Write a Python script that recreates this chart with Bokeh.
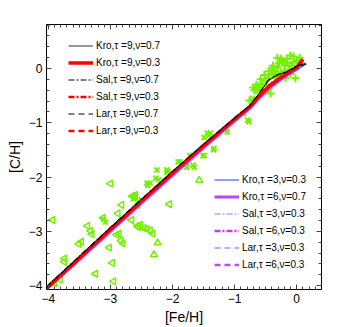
import math
from bokeh.plotting import figure
from bokeh.models import Range1d, LinearAxis, Legend, LegendItem, SingleIntervalTicker
from bokeh.embed import file_html
from bokeh.resources import INLINE

# ---------------- data ----------------
tri_left_x = [-3.93, -3.00, -3.37, -3.32, -3.30, -3.51, -3.47, -3.74, -3.74, -3.24, -2.97, -3.02,
              -2.95, -2.90, -2.86, -2.88, -2.82, -2.65, -2.62, -2.60, -2.66, -2.57, -2.83, -2.80,
              -2.46, -2.41, -2.36, -2.32, -2.05, -3.12, -3.81, -3.90, -2.56, -2.52, -2.55]
tri_left_y = [-2.79, -2.12, -2.90, -2.99, -3.05, -3.23, -3.19, -3.50, -3.56, -3.78, -3.58, -3.30,
              -3.92, -3.06, -3.04, -2.67, -2.51, -2.35, -2.36, -2.33, -2.79, -2.90, -3.17, -3.22,
              -2.94, -2.96, -2.98, -3.04, -2.50, -2.75, -3.89, -3.95, -2.51, -2.88, -2.92]

tri_up_x = [-2.30, -2.24, -1.57]
tri_up_y = [-3.43, -3.21, -2.06]

xmark_x = [-3.11, -3.08, -2.41, -2.40, -2.27, -2.25, -2.22, -2.09, -2.07, -2.36, -2.61, -2.63,
           -1.91, -1.77, -1.67, -1.72, -1.51, -1.39, -1.41, -1.12, -1.44, -1.34, -1.65, -1.77,
           -1.88, -2.09, -0.79, -0.77, -0.86, -0.71, -1.33, -1.49, -1.49, -2.55, -2.50]
xmark_y = [-2.78, -2.83, -2.11, -2.15, -2.02, -1.87, -2.05, -1.87, -1.90, -2.11, -2.37, -2.40,
           -1.72, -1.82, -1.78, -1.60, -1.61, -1.19, -1.23, -1.17, -1.19, -1.50, -1.82, -1.74,
           -1.72, -1.91, -0.95, -0.98, -0.83, -0.55, -1.47, -1.27, -1.60, -2.45, -2.42]

cross_x = [-0.31, -0.10, 0.05, -0.02, -0.18, -0.42, -0.63, -0.60, -0.50, -0.45, -0.31, -0.19,
           -0.25, -0.35, -0.55, -0.12, -0.76, -0.40, -0.38, -0.28, -0.22, -0.15, -0.05, 0.00,
           -0.08, -0.45, -0.52, -0.58, -0.65, -0.48, -0.35, -0.28, -0.20, -0.10, 0.03, -0.40,
           -0.32, -0.68, -0.55, -0.70, -0.45, -0.60, -0.05, -0.16, -0.25]
cross_y = [0.20, 0.24, 0.20, -0.18, -0.18, -0.46, -0.37, -0.33, -0.22, -0.17, 0.02, 0.06,
           -0.08, -0.05, -0.28, -0.02, -0.59, -0.10, 0.05, 0.10, 0.14, 0.10, 0.12, 0.15,
           0.05, -0.05, -0.12, -0.20, -0.30, -0.30, -0.25, -0.15, -0.05, -0.10, 0.05, 0.00,
           -0.12, -0.40, -0.40, -0.35, -0.38, -0.45, 0.22, 0.18, 0.18]

# model curves ([Fe/H], [C/H])
kro9_07_x = [-4.03, -3.5, -3.0, -2.5, -2.0, -1.5, -1.0, -0.75, -0.6, -0.45, -0.3, -0.15, 0.0, 0.15]
kro9_07_y = [-4.02, -3.46, -2.93, -2.41, -1.90, -1.40, -0.92, -0.68, -0.46, -0.22, -0.12, -0.06, 0.04, 0.10]
kro9_03_x = [-4.03, -3.5, -3.0, -2.5, -2.0, -1.5, -1.0, -0.75, -0.6, -0.45, -0.3, -0.15, 0.0, 0.10]
kro9_03_y = [-4.05, -3.49, -2.96, -2.44, -1.92, -1.42, -0.93, -0.70, -0.50, -0.33, -0.20, -0.09, 0.02, 0.17]
sal9_07_x = [-4.03, -3.5, -3.0, -2.5, -2.0, -1.5, -1.0, -0.75, -0.6, -0.45, -0.3, -0.15, 0.0, 0.14]
sal9_07_y = [-4.01, -3.45, -2.92, -2.40, -1.89, -1.39, -0.91, -0.67, -0.45, -0.21, -0.11, -0.05, 0.05, 0.09]
sal9_03_x = [-4.03, -3.5, -3.0, -2.5, -2.0, -1.5, -1.0, -0.75, -0.6, -0.45, -0.3, -0.15, 0.0, 0.10]
sal9_03_y = [-4.04, -3.48, -2.95, -2.43, -1.92, -1.41, -0.93, -0.69, -0.49, -0.32, -0.19, -0.08, 0.03, 0.16]
lar9_07_x = [-4.03, -3.5, -3.0, -2.5, -2.0, -1.5, -1.0, -0.75, -0.6, -0.45, -0.3, -0.15, 0.0, 0.16]
lar9_07_y = [-4.03, -3.47, -2.94, -2.42, -1.90, -1.40, -0.92, -0.68, -0.45, -0.20, -0.11, -0.06, 0.03, 0.08]
lar9_03_x = [-4.03, -3.5, -3.0, -2.5, -2.0, -1.5, -1.0, -0.75, -0.6, -0.45, -0.3, -0.15, 0.0, 0.10]
lar9_03_y = [-4.05, -3.49, -2.96, -2.44, -1.93, -1.42, -0.94, -0.70, -0.50, -0.33, -0.21, -0.09, 0.02, 0.15]
kro3_03_x = [-4.03, -3.5, -3.0, -2.5, -2.0, -1.5, -1.0, -0.75, -0.6, -0.45, -0.3, -0.15, 0.0, 0.12]
kro3_03_y = [-4.06, -3.51, -2.99, -2.47, -1.96, -1.45, -0.96, -0.72, -0.53, -0.36, -0.23, -0.12, -0.02, 0.06]
kro6_07_x = [-4.03, -3.5, -3.0, -2.5, -2.0, -1.5, -1.0, -0.75, -0.6, -0.45, -0.3, -0.15, 0.0, 0.10]
kro6_07_y = [-4.06, -3.52, -3.00, -2.48, -1.97, -1.46, -0.97, -0.73, -0.54, -0.37, -0.24, -0.12, -0.01, 0.07]
sal3_03_x = [-4.03, -3.5, -3.0, -2.5, -2.0, -1.5, -1.0, -0.75, -0.6, -0.45, -0.3, -0.15, 0.0, 0.12]
sal3_03_y = [-4.05, -3.50, -2.98, -2.46, -1.95, -1.44, -0.95, -0.71, -0.52, -0.35, -0.22, -0.11, -0.01, 0.07]
sal6_03_x = [-4.03, -3.5, -3.0, -2.5, -2.0, -1.5, -1.0, -0.75, -0.6, -0.45, -0.3, -0.15, 0.0, 0.10]
sal6_03_y = [-4.06, -3.51, -2.99, -2.47, -1.96, -1.45, -0.96, -0.72, -0.53, -0.36, -0.23, -0.11, -0.01, 0.08]
lar3_03_x = [-4.03, -3.5, -3.0, -2.5, -2.0, -1.5, -1.0, -0.75, -0.6, -0.45, -0.3, -0.15, 0.0, 0.13]
lar3_03_y = [-4.05, -3.50, -2.98, -2.46, -1.95, -1.44, -0.95, -0.71, -0.51, -0.34, -0.22, -0.11, -0.01, 0.06]
lar6_03_x = [-4.03, -3.5, -3.0, -2.5, -2.0, -1.5, -1.0, -0.75, -0.6, -0.45, -0.3, -0.15, 0.0, 0.10]
lar6_03_y = [-4.06, -3.51, -2.99, -2.47, -1.96, -1.45, -0.96, -0.72, -0.53, -0.36, -0.23, -0.12, -0.02, 0.07]

labels_a = ["Kro,\u03c4 =9,\u03bd=0.7", "Kro,\u03c4 =9,\u03bd=0.3", "Sal,\u03c4 =9,\u03bd=0.7",
            "Sal,\u03c4 =9,\u03bd=0.3", "Lar,\u03c4 =9,\u03bd=0.7", "Lar,\u03c4 =9,\u03bd=0.3"]
labels_b = ["Kro,\u03c4 =3,\u03bd=0.3", "Kro,\u03c4 =6,\u03bd=0.7", "Sal,\u03c4 =3,\u03bd=0.3",
            "Sal,\u03c4 =6,\u03bd=0.3", "Lar,\u03c4 =3,\u03bd=0.3", "Lar,\u03c4 =6,\u03bd=0.3"]

# ---------------- figure ----------------
FONT = "Liberation Sans"
GREEN = "#74f000"

p = figure(width=354, height=327, output_backend="svg", toolbar_location=None,
           x_range=Range1d(-4.03, 0.40), y_range=Range1d(-4.07, 0.81),
           min_border_left=46, min_border_right=33, min_border_top=24, min_border_bottom=37,
           x_axis_label="[Fe/H]", y_axis_label="[C/H]")
p.grid.visible = False
p.outline_line_color = None
p.background_fill_color = "white"
p.border_fill_color = "white"

p.xaxis.ticker = SingleIntervalTicker(interval=1, num_minor_ticks=10)
p.yaxis.ticker = SingleIntervalTicker(interval=1, num_minor_ticks=5)

p.add_layout(LinearAxis(ticker=SingleIntervalTicker(interval=1, num_minor_ticks=10),
                        major_label_text_color=None), "above")
p.add_layout(LinearAxis(ticker=SingleIntervalTicker(interval=1, num_minor_ticks=5),
                        major_label_text_color=None), "right")

for ax in p.axis:
    ax.axis_line_color = "black"
    ax.axis_line_width = 1
    ax.major_tick_in = 5
    ax.major_tick_out = 0
    ax.minor_tick_in = 3
    ax.minor_tick_out = 0
    ax.major_tick_line_color = "#444444"
    ax.minor_tick_line_color = "#444444"
    ax.major_label_text_font = FONT
    ax.major_label_text_font_size = "12px"
    ax.axis_label_text_font = FONT
    ax.axis_label_text_font_size = "14px"
    ax.axis_label_text_font_style = "normal"
    ax.axis_label_text_color = "black"
    ax.major_label_standoff = 4
    ax.axis_label_standoff = 3

for ax in p.xaxis[:1] + p.yaxis[:1]:
    pass
p.below[0].major_label_text_color = "black"
p.left[0].major_label_text_color = "black"

# data points
p.scatter(tri_left_x, tri_left_y, marker="triangle", angle=math.pi / 2, size=7,
          fill_alpha=0, line_color=GREEN, line_width=1.5)
p.scatter(tri_up_x, tri_up_y, marker="triangle", size=7,
          fill_alpha=0, line_color=GREEN, line_width=1.5)
p.scatter(xmark_x, xmark_y, marker="x", size=7, line_color=GREEN, line_width=2)
p.scatter(cross_x, cross_y, marker="cross", size=8, line_color=GREEN, line_width=2)

# model lines (lower set first)
MAG = "#b347ff"
r_kro6 = p.line(kro6_07_x, kro6_07_y, line_color=MAG, line_width=3)
r_sal6 = p.line(sal6_03_x, sal6_03_y, line_color="#cc33ff", line_width=2.5, line_dash="6 2 2 2")
r_lar6 = p.line(lar6_03_x, lar6_03_y, line_color="#b94dff", line_width=2.5, line_dash="6 4")
r_kro3 = p.line(kro3_03_x, kro3_03_y, line_color="#1f3fff", line_width=1)
r_sal3 = p.line(sal3_03_x, sal3_03_y, line_color="#6e86ff", line_width=1.2, line_dash="6 2 2 2")
r_lar3 = p.line(lar3_03_x, lar3_03_y, line_color="#4a6aff", line_width=1, line_dash="6 4")

r_kro9_03 = p.line(kro9_03_x, kro9_03_y, line_color="red", line_width=3.5)
r_sal9_03 = p.line(sal9_03_x, sal9_03_y, line_color="red", line_width=2.5, line_dash="6 2 2 2")
r_lar9_03 = p.line(lar9_03_x, lar9_03_y, line_color="red", line_width=2.5, line_dash="6 4")
r_kro9_07 = p.line(kro9_07_x, kro9_07_y, line_color="#333333", line_width=1)
r_sal9_07 = p.line(sal9_07_x, sal9_07_y, line_color="black", line_width=1, line_dash="6 2 2 2")
r_lar9_07 = p.line(lar9_07_x, lar9_07_y, line_color="black", line_width=1, line_dash="6 4")

rend_a = [r_kro9_07, r_kro9_03, r_sal9_07, r_sal9_03, r_lar9_07, r_lar9_03]
rend_b = [r_kro3, r_kro6, r_sal3, r_sal6, r_lar3, r_lar6]


def make_legend(labels, rends, loc):
    leg = Legend(items=[LegendItem(label=l, renderers=[r]) for l, r in zip(labels, rends)],
                 location=loc, orientation="vertical")
    leg.border_line_alpha = 0
    leg.background_fill_alpha = 0
    leg.padding = 0
    leg.margin = 0
    leg.spacing = 0
    leg.glyph_width = 25
    leg.glyph_height = 17
    leg.label_height = 17
    leg.label_standoff = 3
    leg.label_text_font = FONT
    leg.label_text_font_size = "10px"
    leg.label_text_color = "black"
    return leg


p.add_layout(make_legend(labels_a, rend_a, (22, 150)), "center")
p.add_layout(make_legend(labels_b, rend_b, (168, 16)), "center")

open("out.html", "w").write(file_html(p, INLINE))
